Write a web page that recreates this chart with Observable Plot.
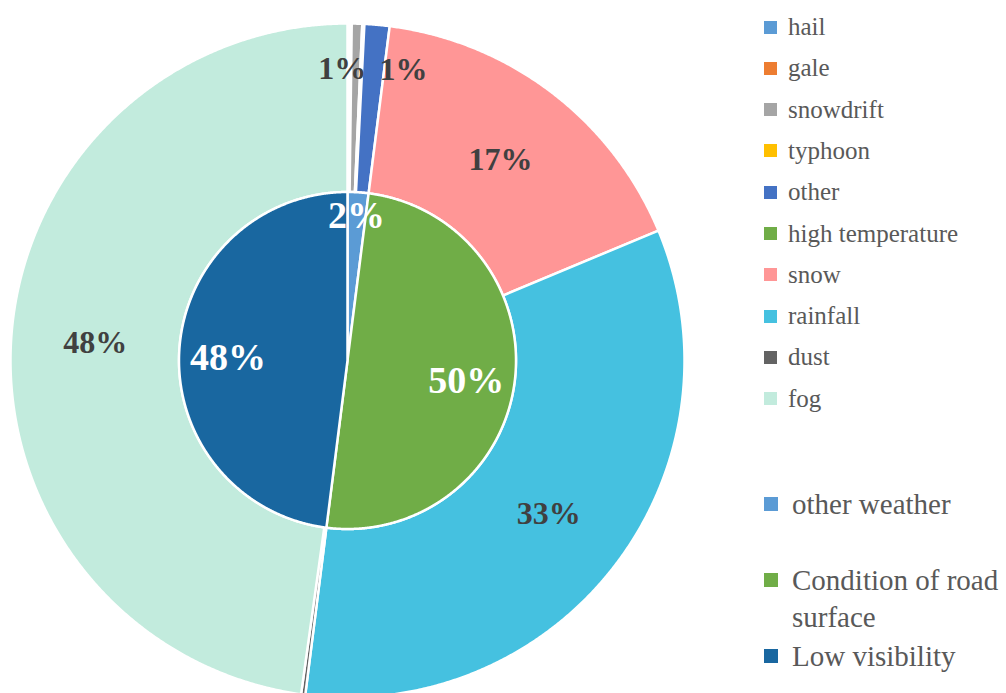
<!DOCTYPE html>
<html><head><meta charset="utf-8">
<script src="https://cdn.jsdelivr.net/npm/d3@7"></script>
<script src="https://cdn.jsdelivr.net/npm/@observablehq/plot@0.6"></script>
</head><body style="margin:0;background:#fff;font-family:'Liberation Serif'">
<div id="wrap" style="position:relative;width:1006px;height:693px;overflow:hidden;"><div id="chart" style="position:absolute;left:0;top:0"></div><div id="leg1" style="position:absolute;left:764px;top:0;color:#595959;"></div><div id="leg2" style="position:absolute;left:764px;top:0;color:#595959;"></div></div>
<script>
// ---- data ----
const outerCategories = ["hail","gale","snowdrift","typhoon","other","high temperature","snow","rainfall","dust","fog"];
const outerValues = [0.1, 0.1, 0.5, 0.1, 1.2, 0, 16.7, 33.3, 0.2, 47.8];
const outerColors = ["#5B9BD5","#ED7D31","#A5A5A5","#FFC000","#4472C4","#70AD47","#FF9696","#45C1E0","#636363","#C2EBDD"];
const innerCategories = ["other weather","Condition of road surface","Low visibility"];
const innerValues = [2, 50, 48];
const innerColors = ["#5B9BD5","#70AD47","#1967A0"];

const FONT = "Liberation Serif";

// ---- geometry (unit = outer radius) ----
const R_OUT = 1, R_MID = 0.5;
const deg = Math.PI/180;
function slices(cats, vals){
  const total = d3.sum(vals);
  let cum = 0;
  return cats.map((c,i)=>{
    const a0 = cum/total*360; cum += vals[i]; const a1 = cum/total*360;
    return {cat:c, value:vals[i], a0, a1, mid:(a0+a1)/2};
  });
}
function arcPoints(s, r0, r1){
  const pts = [];
  const n = Math.max(2, Math.ceil((s.a1-s.a0)/0.25));
  for(let k=0;k<=n;k++){const a=(s.a0+(s.a1-s.a0)*k/n)*deg; pts.push({cat:s.cat,x:r1*Math.sin(a),y:r1*Math.cos(a)});}
  if(r0>0){
    for(let k=n;k>=0;k--){const a=(s.a0+(s.a1-s.a0)*k/n)*deg; pts.push({cat:s.cat,x:r0*Math.sin(a),y:r0*Math.cos(a)});}
  } else pts.push({cat:s.cat,x:0,y:0});
  return pts;
}
const outerS = slices(outerCategories, outerValues).filter(s=>s.value>0);
const innerS = slices(innerCategories, innerValues).filter(s=>s.value>0);
const outerPts = outerS.flatMap(s=>arcPoints(s, R_MID, R_OUT));
const innerPts = innerS.flatMap(s=>arcPoints(s, 0, R_MID));

// small slices' labels are nudged apart, as in the original
let smallIdx = 0;
const outerLabels = outerS.filter(s=>Math.round(s.value)>=1).map(s=>{
  const small = s.value < 2;
  const r = small ? 0.865 : 0.75;
  let x = r*Math.sin(s.mid*deg), y = r*Math.cos(s.mid*deg);
  if(small){ x += (smallIdx%2===0 ? -0.04 : 0.09); smallIdx++; }
  return {x, y, text: Math.round(s.value)+"%"};
});
const innerLabels = innerS.map(s=>{
  const r = s.value < 5 ? 0.43 : 0.355;
  return {x:r*Math.sin(s.mid*deg), y:r*Math.cos(s.mid*deg) - (s.value < 5 ? 0 : 0.015), text: Math.round(s.value)+"%"};
});

const cx = 347, cy = 360, Rpx = 337, W = 1006, H = 693;
const chart = Plot.plot({
  width: W, height: H, margin: 0,
  style: {fontFamily: FONT},
  x: {domain: [-cx/Rpx, (W-cx)/Rpx], axis: null},
  y: {domain: [-(H-cy)/Rpx, cy/Rpx], axis: null},
  color: {domain: outerCategories.concat(innerCategories), range: outerColors.concat(innerColors)},
  marks: [
    Plot.line(outerPts, {x:"x", y:"y", z:"cat", fill:"cat", stroke:"white", strokeWidth:2.5, curve:"linear-closed"}),
    Plot.line(innerPts, {x:"x", y:"y", z:"cat", fill:"cat", stroke:"white", strokeWidth:2.5, curve:"linear-closed"}),
    Plot.text(outerLabels, {x:"x", y:"y", text:"text", fill:"#404040", fontSize:32, fontWeight:"bold", fontFamily:FONT}),
    Plot.text(innerLabels, {x:"x", y:"y", text:"text", fill:"white", fontSize:38, fontWeight:"bold", fontFamily:FONT})
  ]
});
document.getElementById("chart").appendChild(chart);

// ---- legends ----
function item(parent, top, fs, lh, sw, gap, color, html){
  const div = document.createElement("div");
  div.style.cssText = `position:absolute;left:0;top:${top}px;display:flex;align-items:flex-start;white-space:nowrap;font-family:'Liberation Serif';font-size:${fs}px;line-height:${lh}px`;
  const s = document.createElement("span");
  s.style.cssText = `display:inline-block;flex:none;width:${sw}px;height:${sw}px;margin-top:${(lh-sw)/2}px;margin-right:${gap}px;background:${color}`;
  const t = document.createElement("span");
  t.innerHTML = html;
  div.appendChild(s); div.appendChild(t);
  parent.appendChild(div);
}
const leg1 = document.getElementById("leg1");
outerCategories.forEach((c,i)=>{
  const yc = 27 + i*41.3;
  item(leg1, yc-15, 25, 30, 13, 11, outerColors[i], c);
});
const leg2 = document.getElementById("leg2");
const leg2Text = ["other weather","Condition of road<br>surface","Low visibility"];
innerCategories.forEach((c,i)=>{
  const yc = 504 + i*76;
  item(leg2, yc-18.5, 29, 37, 14, 14, innerColors[i], leg2Text[i]);
});
</script>
</body></html>
